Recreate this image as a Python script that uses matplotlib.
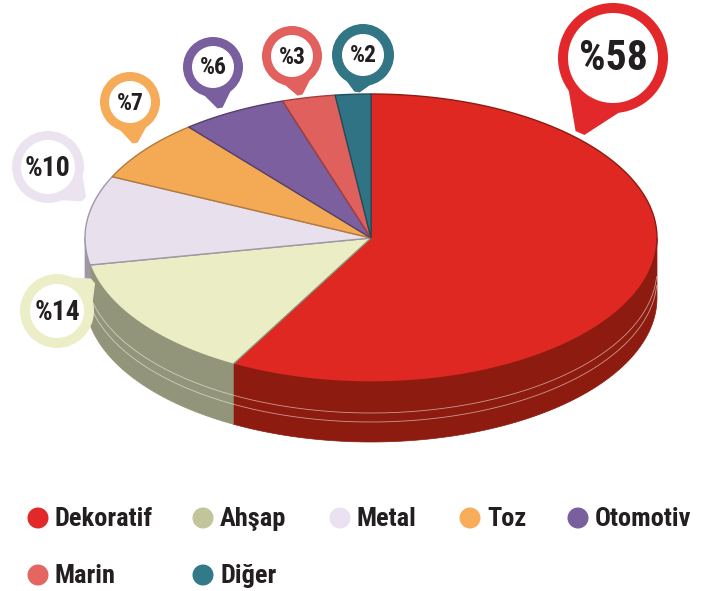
import matplotlib.pyplot as plt
import numpy as np
from matplotlib.patches import Circle, Polygon

categories = ['Dekoratif', 'Ahşap', 'Metal', 'Toz', 'Otomotiv', 'Marin', 'Diğer']
shares = [58, 14, 10, 7, 6, 3, 2]

top_colors = ['#e02823', '#ebedc4', '#e9e0ee', '#f4aa55', '#7b5f9e', '#e0605d', '#307384']
side_colors = ['#8e1b10', '#93957a', '#9f97a6', '#b27a3a', '#54406e', '#a33f3d', '#1f4f5a']
legend_colors = ['#e2282a', '#c2c59a', '#ebe1f0', '#f8ad5a', '#7a5f9f', '#e56561', '#337a88']
ring_colors = ['#e2282a', '#eceec8', '#ece3f1', '#f6ab58', '#7a5f9f', '#e2605d', '#327585']

# pin layout: centre x, centre y, outer r, inner r, tip x, tip y, font size
pins = [
    (613, 58, 55, 45, 580, 133, 30),
    (57, 311, 37, 27, 93, 281, 20),
    (48, 167, 36, 27, 84, 199, 20),
    (130, 102, 30, 21, 135, 143, 17),
    (213, 67, 30, 21, 220, 108, 17),
    (292, 56, 30, 21, 300, 95, 17),
    (363, 55, 31, 21, 357, 92, 17),
]

TXT = '#231f20'
FONT = ['Roboto Condensed', 'Fira Sans Condensed', 'DejaVu Sans']
cx, cy, rx, ry, depth = 371, 238, 286, 144, 60


def ell(th, dy=0):
    return cx + rx * np.cos(th), cy - ry * np.sin(th) + dy


fig = plt.figure(figsize=(7.01, 5.91), dpi=100)
ax = fig.add_axes([0, 0, 1, 1])
ax.set_xlim(0, 701)
ax.set_ylim(591, 0)
ax.axis('off')

# slice angles, clockwise from the top
bounds = 90 - np.cumsum([0] + shares) * 3.6
slices = [(bounds[i + 1], bounds[i]) for i in range(len(shares))]

# sides (front half only)
for (lo, hi), col in zip(slices, side_colors):
    a, b = max(lo, -180), min(hi, 0)
    if a >= b:
        continue
    th = np.radians(np.linspace(a, b, 120))
    xt, yt = ell(th)
    xb, yb = ell(th, depth)
    pts = np.column_stack([np.r_[xt, xb[::-1]], np.r_[yt, yb[::-1]]])
    ax.add_patch(Polygon(pts, closed=True, fc=col, ec=col, lw=0.5, zorder=1))

# faint lines on the side
th = np.radians(np.linspace(-175, -3, 300))
for off in (31, 40):
    x, y = ell(th, off)
    ax.plot(x, y, color='white', lw=0.6, alpha=0.55, zorder=2)

# top face
for (lo, hi), col, ec in zip(slices, top_colors, side_colors):
    th = np.radians(np.linspace(lo, hi, 200))
    x, y = ell(th)
    pts = np.column_stack([np.r_[cx, x], np.r_[cy, y]])
    ax.add_patch(Polygon(pts, closed=True, fc=col, ec=ec, lw=1.0, zorder=3))

# pins
for (px, py, R, r, tx, ty, fs), col, v in zip(pins, ring_colors, shares):
    d = np.array([tx - px, ty - py], float)
    d /= np.linalg.norm(d)
    n = np.array([-d[1], d[0]])
    ang = np.arctan2(d[1], d[0])
    b1 = np.array([px, py]) + (R - 2) * np.array([np.cos(ang + 0.6), np.sin(ang + 0.6)])
    b2 = np.array([px, py]) + (R - 2) * np.array([np.cos(ang - 0.6), np.sin(ang - 0.6)])
    w = R * 0.22
    t1 = np.array([tx, ty]) + n * w * 0.4
    t2 = np.array([tx, ty]) - n * w * 0.4
    ax.add_patch(Polygon([b1, t1, t2, b2], closed=True, fc=col, ec='none', zorder=5))
    ax.add_patch(Circle((px, py), R, fc=col, ec='none', zorder=5))
    ax.add_patch(Circle((px, py), r, fc='white', ec='none', zorder=6))
    ax.text(px, py + 1, f'%{v}', ha='center', va='center', fontsize=fs,
            fontweight='bold', color=TXT, family=FONT, zorder=7)

# legend
leg_pos = [(38, 518), (203, 518), (340, 518), (470, 518), (578, 518), (38, 575), (203, 575)]
for (lx, ly), name, col in zip(leg_pos, categories, legend_colors):
    ax.add_patch(Circle((lx, ly), 10.5, fc=col, ec='none'))
    ax.text(lx + 17, ly + 1, name, ha='left', va='center', fontsize=19,
            fontweight='bold', color=TXT, family=FONT)

fig.savefig('out.png', dpi=100)
